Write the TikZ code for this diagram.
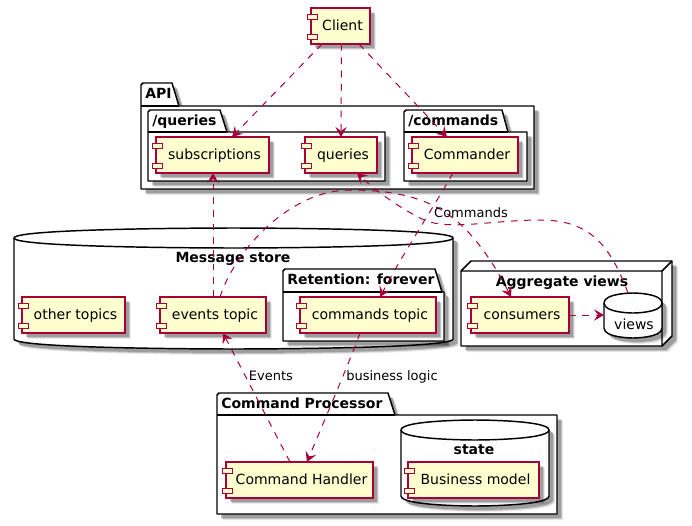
\documentclass[tikz,border=0pt]{standalone}
\usepackage{fontspec}
\setmainfont{DejaVu Sans}
\usetikzlibrary{shadows,arrows.meta,calc}
\newdimen\pxu \pxu=0.75pt
\definecolor{plantred}{HTML}{A80036}
\definecolor{plantfill}{HTML}{FEFECE}
\tikzset{
  softshadow/.style={
    general shadow={shadow xshift=6\pxu,shadow yshift=-6\pxu,fill=black,draw=none,opacity=.08},
    general shadow={shadow xshift=5\pxu,shadow yshift=-5\pxu,fill=black,draw=none,opacity=.16},
    general shadow={shadow xshift=4\pxu,shadow yshift=-4\pxu,fill=black,draw=none,opacity=.2}},
  compbox/.style={draw=plantred,fill=plantfill,line width=.95pt,softshadow,inner sep=0pt,outer sep=0pt,
    font=\fontsize{10.5pt}{12pt}\selectfont,text height=8pt,text depth=2pt},
  comptab/.style={draw=plantred,fill=plantfill,line width=.75pt},
  pkgbox/.style={draw=black,fill=white,line width=1.1pt,line join=round,softshadow},
  pkgtitle/.style={font=\fontsize{10.5pt}{12pt}\selectfont\bfseries,anchor=west,inner sep=0pt,text height=8pt,text depth=2pt},
  edgelabel/.style={font=\fontsize{9.75pt}{12pt}\selectfont,inner sep=0pt,text height=8pt,text depth=2pt},
  depend/.style={draw=plantred,line width=.75pt,dash pattern=on 5pt off 5pt,
    -{Stealth[length=7.5pt,width=8.5pt,inset=3pt,fill=plantred]}},
}
\newcommand\comp[6]{%
  \node[compbox,minimum width={(#4-#2)*0.75pt},minimum height={(#5-#3)*0.75pt}] (#1) at ({(#2+#4)/2},{(#3+#5)/2}) {\kern4\pxu #6};
  \draw[comptab] ({#2-4},{#3+6}) rectangle ({#2+6},{#3+11});
  \draw[comptab] ({#2-4},{#3+26}) rectangle ({#2+6},{#3+31});
}
\newcommand\pkg[9]{%
  \draw[pkgbox] (#2,#5) -- (#2,{#3+2}) -- ({#2+2},#3) -- (#7,#3) -- (#8,#5) -- (#4,#5) -- (#4,#6) -- (#2,#6) -- cycle;
  \draw[black,line width=1.1pt] (#2,#5) -- (#8,#5);
  \node[pkgtitle] (#1) at ({#2+4},{#3+11}) {#9};
}
\newcommand\cyl[5]{% x1 y1 x2 y2 name
  \draw[pkgbox] (#1,{#2+10}) .. controls (#1,#2) and ({(#1+#3)/2},#2) .. ({(#1+#3)/2},#2)
    .. controls ({(#1+#3)/2},#2) and (#3,#2) .. (#3,{#2+10})
    -- (#3,{#4-10}) .. controls (#3,#4) and ({(#1+#3)/2},#4) .. ({(#1+#3)/2},#4)
    .. controls ({(#1+#3)/2},#4) and (#1,#4) .. (#1,{#4-10}) -- cycle;
  \draw[black,line width=1.1pt] (#1,{#2+10}) .. controls (#1,{#2+20}) and ({(#1+#3)/2},{#2+20}) .. ({(#1+#3)/2},{#2+20})
    .. controls ({(#1+#3)/2},{#2+20}) and (#3,{#2+20}) .. (#3,{#2+10});
  \node[minimum width={(#3-#1)*0.75pt},minimum height={(#4-#2)*0.75pt},inner sep=0pt,outer sep=0pt] (#5) at ({(#1+#3)/2},{(#2+#4)/2}) {};
}
\begin{document}
\begin{tikzpicture}[x=0.75pt,y=-0.75pt]
\useasboundingbox (0,0) rectangle (692,525);
\fill[white] (0,0) rectangle (692,525);
% API
\pkg{apititle}{141}{83}{534}{106}{189}{172}{179}{API}
\pkg{qtitle}{148}{110}{385}{132}{181}{220}{227}{/queries}
\pkg{ctitle}{404}{110}{527}{132}{181}{502}{508}{/commands}
% Message store
\cyl{14}{228}{453}{349}{mstore}
\node[pkgtitle,anchor=center] (mstoretitle) at (233,258) {Message store};
\pkg{rtitle}{283}{269}{444}{292}{341}{435}{442}{Retention: forever}
% Aggregate views
\draw[pkgbox] (461,271) -- (471,261) -- (672,261) -- (672,336) -- (662,346) -- (461,346) -- cycle;
\draw[black,line width=1.1pt] (461,271) -- (662,271) -- (672,261) (662,271) -- (662,346);
\node[pkgtitle,anchor=center] (aggtitle) at (562,282) {Aggregate views};
\cyl{604}{293}{662}{338}{viewsdb}
\node[inner sep=0pt,font=\fontsize{10.5pt}{12pt}\selectfont,text height=8pt,text depth=2pt] (viewstext) at (634,325) {views};
% Command Processor
\pkg{cptitle}{217}{393}{557}{415}{514}{388}{395}{Command Processor}
\cyl{401}{420}{549}{506}{statedb}
\node[pkgtitle,anchor=center] (statetitle) at (474,450) {state};
% Components
\comp{client}{311}{8}{370}{44}{Client}
\comp{subs}{156}{137}{269}{173}{subscriptions}
\comp{queries}{305}{137}{377}{173}{queries}
\comp{commander}{412}{137}{518}{173}{Commander}
\comp{other}{22}{297}{125}{333}{other topics}
\comp{events}{160}{297}{266}{333}{events topic}
\comp{cmdtopic}{300}{297}{436}{333}{commands topic}
\comp{consumers}{471}{297}{569}{333}{consumers}
\comp{handler}{226}{462}{373}{498}{Command Handler}
\comp{bizmodel}{408}{462}{539}{498}{Business model}
% Connectors
\draw[depend] ([xshift=-18.5\pxu]client.south) -- ([xshift=19.5\pxu]subs.north);
\draw[depend] ([xshift=1\pxu]client.south) -- ([xshift=0\pxu]queries.north);
\draw[depend] ([xshift=18.5\pxu]client.south) -- ([xshift=-18\pxu]commander.north);
\draw[depend] ([xshift=0\pxu]events.north) -- ([xshift=.5\pxu]subs.south);
\draw[depend] ([xshift=7\pxu]events.north) .. controls +(15,-47) and (290,190) .. (350,190)
   .. controls (400,190) and (430,200) .. (453,218) .. controls (475,235) and (495,265) .. ([xshift=-9\pxu]consumers.north);
\draw[depend] ([xshift=-5\pxu]viewsdb.north) .. controls +(-18,-48) and (590,220) .. (540,220)
   .. controls (490,220) and (445,232) .. (420,218) .. controls (395,205) and (375,190) .. ([xshift=16\pxu]queries.south);
\draw[depend] ([xshift=-12\pxu]commander.south) .. controls (435,205) and (405,250) .. ([xshift=12\pxu]cmdtopic.north);
\draw[depend] ([xshift=-9.5\pxu]handler.north) -- ([xshift=10\pxu]events.south);
\draw[depend] ([xshift=-8\pxu]cmdtopic.south) .. controls +(-5,15) and (333,400) .. ([xshift=7.5\pxu]handler.north);
\draw[depend] (consumers.east) -- (viewsdb.west |- consumers.east);
% Labels
\node[edgelabel] (lblcmd) at (471,213) {Commands};
\node[edgelabel] (lblbiz) at (392,376) {business logic};
\node[edgelabel] (lblevt) at (271,376) {Events};
\end{tikzpicture}
\end{document}
